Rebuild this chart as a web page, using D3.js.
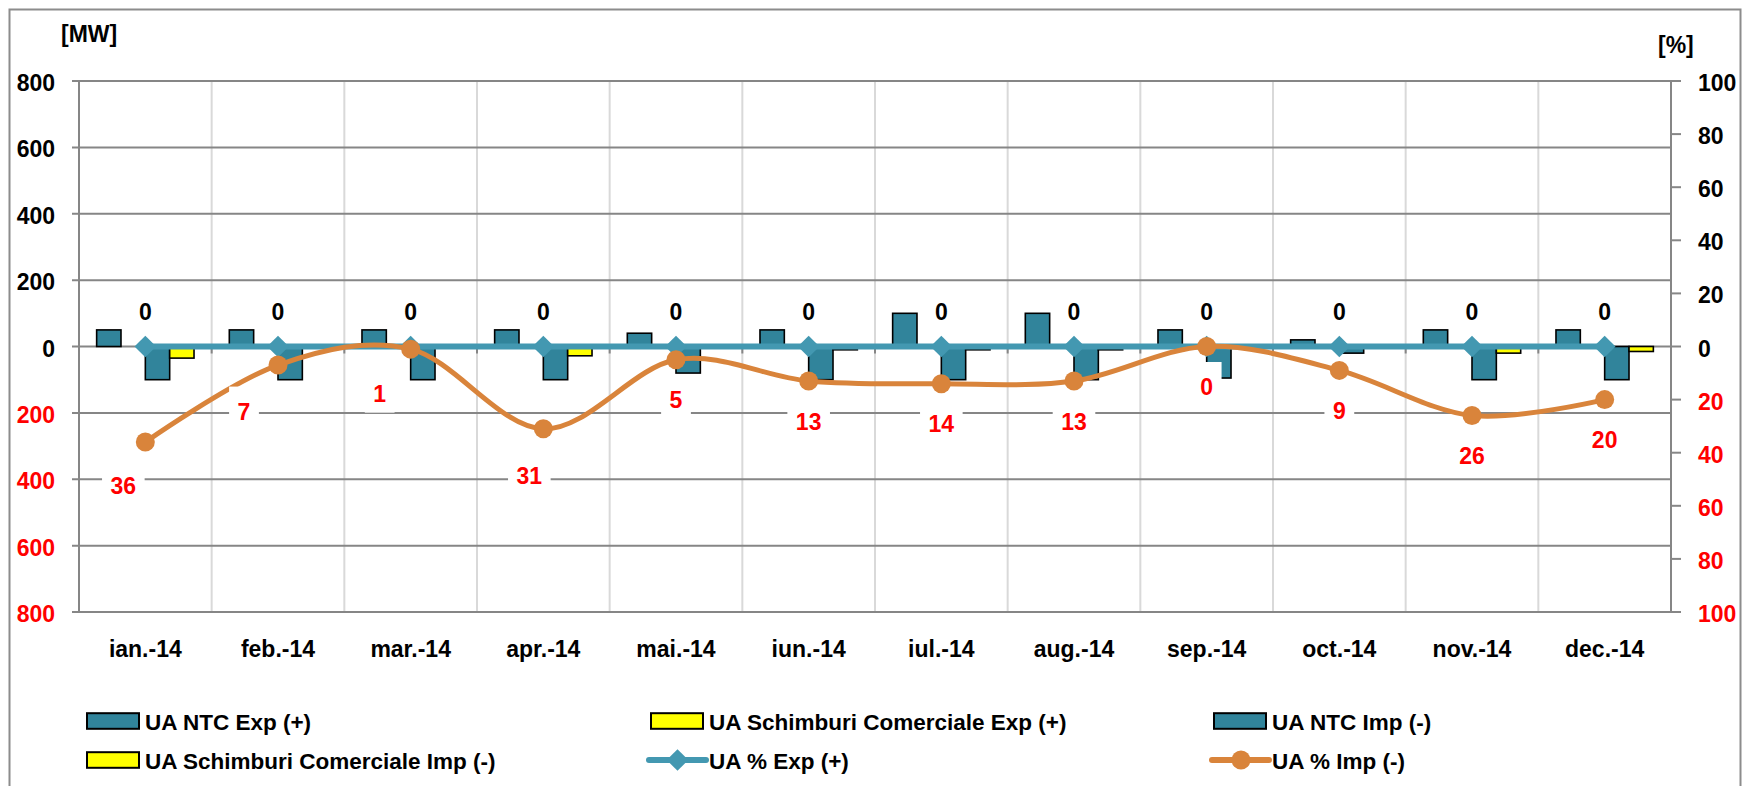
<!DOCTYPE html>
<html>
<head>
<meta charset="utf-8">
<script src="https://cdn.jsdelivr.net/npm/d3@7"></script>
<style>
  html, body { margin: 0; padding: 0; background: #fff; }
  svg { display: block; }
  text { font-family: "Liberation Sans", Arial, sans-serif; font-weight: bold; }
</style>
</head>
<body>
<svg id="chart" width="1742" height="786"></svg>
<script>
// ---------------- data ----------------
const categories = ["ian.-14","feb.-14","mar.-14","apr.-14","mai.-14","iun.-14","iul.-14","aug.-14","sep.-14","oct.-14","nov.-14","dec.-14"];
const ntcExp = [50, 50, 50, 50, 40, 50, 100, 100, 50, 20, 50, 50];
const schExp = [0, 0, 0, 0, 0, 0, 0, 0, 0, 0, 0, 0];
const ntcImp = [-100, -100, -100, -100, -80, -100, -100, -100, -95, -20, -100, -100];
const schImp = [-35, 0, 0, -28, 0, -10, -10, -10, 0, 0, -20, -15];
const pctExp = [0, 0, 0, 0, 0, 0, 0, 0, 0, 0, 0, 0];
const pctImp = [36, 7, 1, 31, 5, 13, 14, 13, 0, 9, 26, 20];
const leftTicks = [-800, -600, -400, -200, 0, 200, 400, 600, 800];
const rightTicks = [-100, -80, -60, -40, -20, 0, 20, 40, 60, 80, 100];
const seriesNames = ["UA NTC Exp (+)", "UA Schimburi Comerciale Exp (+)", "UA NTC Imp (-)",
                     "UA Schimburi Comerciale Imp (-)", "UA % Exp (+)", "UA % Imp (-)"];
// manual nudges of the "% Imp" data labels (dx, dy), as in the original
const impLabelNudge = [[-22, 3], [-34, 6], [-31, 4], [-14, 7], [0, 0], [0, 0], [0, 0], [0, 0], [0, 0], [0, 0], [0, 0], [0, 0]];

// ---------------- styles / layout ----------------
const C = { teal: "#31849B", yellow: "#FFFF00", tealLine: "#4398B1", orange: "#D9843B",
            grid: "#868686", vgrid: "#D9D9D9", red: "#FF0000" };
const L = { left: 79, right: 1671, top: 81, bottom: 612 };

const svg = d3.select("#chart");
svg.append("rect").attr("width", 1742).attr("height", 786).attr("fill", "#fff");
svg.append("rect").attr("x", 9.5).attr("y", 9.5).attr("width", 1731).attr("height", 820)
   .attr("fill", "none").attr("stroke", "#8C8C8C").attr("stroke-width", 2);

const x = d3.scaleBand().domain(categories).range([L.left, L.right]).padding(0);
const bw = x.bandwidth();
const barKeys = ["ntcExp", "schExp", "ntcImp", "schImp"];
const xs = d3.scaleBand().domain(barKeys).range([bw * 0.133, bw * 0.867]).padding(0);
const yL = d3.scaleLinear().domain([-800, 800]).range([L.bottom, L.top]);
const yR = d3.scaleLinear().domain([-100, 100]).range([L.bottom, L.top]);

// vertical gridlines
const g = svg.append("g");
g.selectAll("line.vg").data(categories.slice(1)).join("line")
  .attr("x1", d => x(d)).attr("x2", d => x(d)).attr("y1", L.top).attr("y2", L.bottom)
  .attr("stroke", C.vgrid).attr("stroke-width", 2);

// horizontal gridlines with left tick marks
g.selectAll("line.hg").data(leftTicks).join("line")
  .attr("x1", L.left - 7).attr("x2", L.right).attr("y1", d => yL(d)).attr("y2", d => yL(d))
  .attr("stroke", C.grid).attr("stroke-width", 2);

// axes lines
g.append("line").attr("x1", L.left).attr("x2", L.left).attr("y1", L.top).attr("y2", L.bottom)
  .attr("stroke", C.grid).attr("stroke-width", 2);
g.append("line").attr("x1", L.right).attr("x2", L.right).attr("y1", L.top).attr("y2", L.bottom)
  .attr("stroke", C.grid).attr("stroke-width", 2);
// right ticks
g.selectAll("line.rt").data(rightTicks).join("line")
  .attr("x1", L.right).attr("x2", L.right + 10).attr("y1", d => yR(d)).attr("y2", d => yR(d))
  .attr("stroke", C.grid).attr("stroke-width", 2);
// category ticks on zero line
g.selectAll("line.ct").data(categories.slice(1)).join("line")
  .attr("x1", d => x(d)).attr("x2", d => x(d)).attr("y1", yL(0)).attr("y2", yL(0) + 7)
  .attr("stroke", C.grid).attr("stroke-width", 2);

// left tick labels
svg.append("g").selectAll("text").data(leftTicks).join("text")
  .attr("x", 55).attr("y", d => yL(d) + 10).attr("text-anchor", "end")
  .attr("font-size", 23).attr("fill", d => d < 0 ? C.red : "#000")
  .text(d => Math.abs(d));
// right tick labels
svg.append("g").selectAll("text").data(rightTicks).join("text")
  .attr("x", 1698).attr("y", d => yR(d) + 10).attr("text-anchor", "start")
  .attr("font-size", 23).attr("fill", d => d < 0 ? C.red : "#000")
  .text(d => Math.abs(d));
// unit labels
svg.append("text").attr("x", 61).attr("y", 42).attr("font-size", 23).text("[MW]");
svg.append("text").attr("x", 1658).attr("y", 53).attr("font-size", 23).text("[%]");

// category labels
svg.append("g").selectAll("text").data(categories).join("text")
  .attr("x", d => x(d) + bw / 2).attr("y", 657).attr("text-anchor", "middle")
  .attr("font-size", 23).attr("fill", "#000").text(d => d);

// bars
const barSeries = [
  { key: "ntcExp", vals: ntcExp, color: C.teal },
  { key: "schExp", vals: schExp, color: C.yellow },
  { key: "ntcImp", vals: ntcImp, color: C.teal },
  { key: "schImp", vals: schImp, color: C.yellow }
];
const bars = svg.append("g");
barSeries.forEach(s => {
  const data = categories.map((c, i) => ({ c, v: s.vals[i] })).filter(d => d.v !== 0);
  bars.selectAll(null).data(data).join("rect")
    .attr("x", d => x(d.c) + xs(s.key)).attr("width", xs.bandwidth())
    .attr("y", d => yL(Math.max(0, d.v)))
    .attr("height", d => Math.abs(yL(d.v) - yL(0)))
    .attr("fill", s.color).attr("stroke", "#000").attr("stroke-width", 1.6);
});

// % Exp line (teal) with diamonds
const cx = c => x(c) + bw / 2;
const expPts = categories.map((c, i) => [cx(c), yR(pctExp[i])]);
svg.append("path").attr("d", d3.line()(expPts)).attr("fill", "none")
  .attr("stroke", C.tealLine).attr("stroke-width", 6);
svg.append("g").selectAll("path").data(expPts).join("path")
  .attr("d", d3.symbol().type(d3.symbolDiamond2 || d3.symbolDiamond).size(300))
  .attr("transform", d => `translate(${d[0]},${d[1]}) rotate(${d3.symbolDiamond2 ? 0 : 0})`)
  .attr("fill", C.tealLine);

// % Imp line (orange), smoothed, with circles
const impPts = categories.map((c, i) => [cx(c), yR(-pctImp[i])]);
svg.append("path").attr("d", d3.line().curve(d3.curveCardinal.tension(0))(impPts))
  .attr("fill", "none").attr("stroke", C.orange).attr("stroke-width", 5);
svg.append("g").selectAll("circle").data(impPts).join("circle")
  .attr("cx", d => d[0]).attr("cy", d => d[1]).attr("r", 9.5).attr("fill", C.orange);

// data labels: % Exp (black, above)
svg.append("g").selectAll("text").data(categories).join("text")
  .attr("x", d => cx(d)).attr("y", (d, i) => yR(pctExp[i]) - 27).attr("text-anchor", "middle")
  .attr("font-size", 23).attr("fill", "#000").text((d, i) => pctExp[i]);

// data labels: % Imp (red, below, white box)
const lab = svg.append("g");
categories.forEach((c, i) => {
  const lx = cx(c) + impLabelNudge[i][0];
  const ly = yR(-pctImp[i]) + 48.5 + impLabelNudge[i][1];
  const grp = lab.append("g");
  const t = grp.append("text").attr("x", lx).attr("y", ly).attr("text-anchor", "middle")
    .attr("font-size", 23).attr("fill", C.red).text(pctImp[i]);
  const w = t.node().getComputedTextLength();
  grp.insert("rect", "text").attr("x", lx - w / 2 - 8.5).attr("y", ly - 33)
    .attr("width", w + 17).attr("height", 44).attr("fill", "#fff");
});

// legend
const legend = svg.append("g");
const colX = [87, 651, 1214];
const rowY = [721, 760];
const legendItems = [
  { name: seriesNames[0], type: "box", color: C.teal, col: 0, row: 0 },
  { name: seriesNames[1], type: "box", color: C.yellow, col: 1, row: 0 },
  { name: seriesNames[2], type: "box", color: C.teal, col: 2, row: 0 },
  { name: seriesNames[3], type: "box", color: C.yellow, col: 0, row: 1 },
  { name: seriesNames[4], type: "diamond", color: C.tealLine, col: 1, row: 1 },
  { name: seriesNames[5], type: "circle", color: C.orange, col: 2, row: 1 }
];
legendItems.forEach(it => {
  const lx = colX[it.col], ly = rowY[it.row];
  if (it.type === "box") {
    legend.append("rect").attr("x", lx).attr("y", ly - 7.8).attr("width", 52).attr("height", 15.6)
      .attr("fill", it.color).attr("stroke", "#000").attr("stroke-width", 2);
  } else {
    legend.append("line").attr("x1", lx - 2).attr("x2", lx + 55).attr("y1", ly).attr("y2", ly)
      .attr("stroke", it.color).attr("stroke-width", 6).attr("stroke-linecap", "round");
    if (it.type === "diamond") {
      legend.append("path").attr("d", d3.symbol().type(d3.symbolDiamond2 || d3.symbolDiamond).size(300))
        .attr("transform", `translate(${lx + 26.5},${ly})`).attr("fill", it.color);
    } else {
      legend.append("circle").attr("cx", lx + 27).attr("cy", ly).attr("r", 9.5).attr("fill", it.color);
    }
  }
  legend.append("text").attr("x", lx + 58).attr("y", ly + 8.5).attr("font-size", 22.5)
    .attr("fill", "#000").text(it.name);
});
</script>
</body>
</html>
